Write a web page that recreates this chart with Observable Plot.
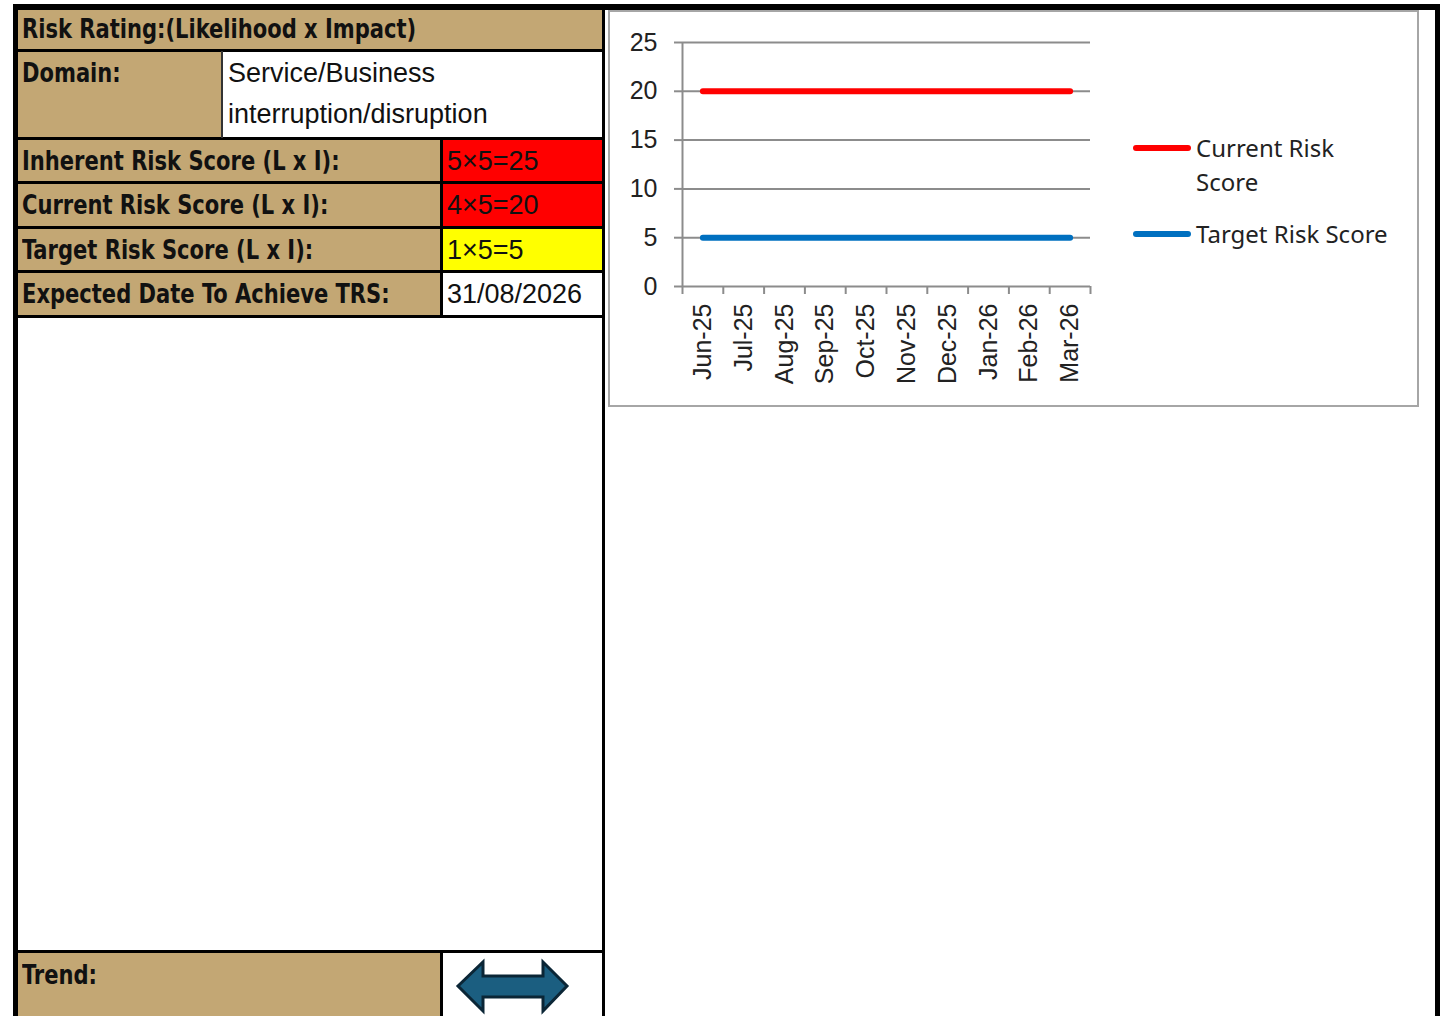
<!DOCTYPE html>
<html>
<head>
<meta charset="utf-8">
<script src="https://cdn.jsdelivr.net/npm/d3@7"></script>
<script src="https://cdn.jsdelivr.net/npm/@observablehq/plot@0.6"></script>
<style>
  html, body { margin: 0; padding: 0; background: #ffffff; }
  body { width: 1440px; height: 1016px; position: relative; overflow: hidden; }
  .abs { position: absolute; box-sizing: border-box; }
  .tan { background: #c3a774; }
  .blk { background: #000000; }
  .lbl { font-family: "Liberation Sans Narrow", "DejaVu Sans Condensed", "Liberation Sans", sans-serif; font-weight: bold; font-size: 26px; color: #111; white-space: nowrap; line-height: 1; transform: scaleX(0.9); transform-origin: 0 50%; }
  .val { font-family: "Liberation Sans", Arial, sans-serif; font-size: 27px; color: #111; white-space: nowrap; line-height: 1; }
  .leg { font-family: "Noto Sans", "Open Sans", sans-serif; font-size: 24px; color: #222; line-height: 34px; }
</style>
</head>
<body>
<div id="root"></div>
<script>
// ---------- data ----------
const months = ["Jun-25", "Jul-25", "Aug-25", "Sep-25", "Oct-25", "Nov-25", "Dec-25", "Jan-26", "Feb-26", "Mar-26"];
const currentRisk = [20, 20, 20, 20, 20, 20, 20, 20, 20, 20];
const targetRisk  = [5, 5, 5, 5, 5, 5, 5, 5, 5, 5];
const yTicks = [0, 5, 10, 15, 20, 25];
const seriesNames = ["Current Risk Score", "Target Risk Score"];
const seriesColors = ["#ff0000", "#0070c0"];

const headerText = "Risk Rating:(Likelihood x Impact)";
const domainLabel = "Domain:";
const domainValueLines = ["Service/Business", "interruption/disruption"];
const scoreLabels = ["Inherent Risk Score (L x I):", "Current Risk Score (L x I):", "Target Risk Score (L x I):", "Expected Date To Achieve TRS:"];
const scoreValues = ["5×5=25", "4×5=20", "1×5=5", "31/08/2026"];
const scoreFills = ["#ff0000", "#ff0000", "#ffff00", "#ffffff"];
const trendLabel = "Trend:";

// ---------- layout helpers ----------
const root = document.getElementById("root");
function box(x, y, w, h, cls, style) {
  const d = document.createElement("div");
  d.className = "abs " + (cls || "");
  Object.assign(d.style, {left: x + "px", top: y + "px", width: w + "px", height: h + "px"}, style || {});
  root.appendChild(d);
  return d;
}
function text(x, cy, str, cls, style) {
  const d = document.createElement("div");
  d.className = "abs " + cls;
  d.textContent = str;
  Object.assign(d.style, {left: x + "px", top: (cy - 14) + "px", height: "28px", lineHeight: "28px"}, style || {});
  root.appendChild(d);
  return d;
}

// cells
box(18, 10, 585, 41, "tan");
text(22, 29, headerText, "lbl");

box(18, 51, 205, 88, "tan");
text(22, 73, domainLabel, "lbl");
box(223, 51, 380, 88, "", {background: "#fff"});
domainValueLines.forEach((s, i) => text(228, 73 + i * 41, s, "val"));

const rowTops = [139, 183, 228, 272];
const rowH = [44, 45, 44, 45];
scoreLabels.forEach((s, i) => {
  box(18, rowTops[i], 424, rowH[i], "tan");
  text(22, rowTops[i] + 22, s, "lbl");
  box(442, rowTops[i], 161, rowH[i], "", {background: scoreFills[i]});
  text(447, rowTops[i] + 22, scoreValues[i], "val");
});

box(18, 952, 424, 64, "tan");
text(22, 975, trendLabel, "lbl");

// black grid lines
box(13, 4, 1427, 6, "blk");       // top
box(13, 4, 5, 1012, "blk");       // left
box(1435, 4, 5, 1012, "blk");     // right
box(602, 10, 3, 1006, "blk");     // middle divider
[49, 137, 181, 226, 270, 315, 950].forEach(y => box(18, y, 585, 3, "blk"));
box(221, 51, 2, 87, "blk", {background: "#333"});
box(440, 139, 3, 177, "blk");
box(440, 952, 3, 64, "blk");

// trend arrow (decoration)
const arrowNS = "http://www.w3.org/2000/svg";
const arr = document.createElementNS(arrowNS, "svg");
arr.setAttribute("width", 120); arr.setAttribute("height", 60);
Object.assign(arr.style, {position: "absolute", left: "452px", top: "956px"});
const p = document.createElementNS(arrowNS, "path");
p.setAttribute("d", "M6,30 L31,6 L31,20 L91,20 L91,6 L115,30 L91,55 L91,41 L31,41 L31,55 Z");
p.setAttribute("fill", "#1b5e80");
p.setAttribute("stroke", "#0b2636");
p.setAttribute("stroke-width", "3");
p.setAttribute("stroke-linejoin", "miter");
arr.appendChild(p);
root.appendChild(arr);

// chart frame
box(608, 10, 811, 397, "", {border: "2px solid #a6a6a6", background: "#fff"});

// ---------- chart ----------
const idx = months.map((_, i) => i);
const bounds = d3.range(-0.5, months.length, 1);
const data = months.flatMap((m, i) => [
  {i, v: currentRisk[i], s: seriesNames[0]},
  {i, v: targetRisk[i], s: seriesNames[1]}
]);
const gray = "#8c8c8c";

const chart = Plot.plot({
  width: 500,
  height: 390,
  marginLeft: 72,
  marginTop: 30,
  marginRight: 20,
  marginBottom: 116,
  x: {type: "linear", domain: [-0.5, months.length - 0.5]},
  y: {domain: [0, 25]},
  color: {domain: seriesNames, range: seriesColors},
  style: {fontFamily: "'Liberation Sans', Arial, sans-serif", background: "transparent", overflow: "visible"},
  marks: [
    Plot.gridY(yTicks, {stroke: gray, strokeOpacity: 1, strokeWidth: 2}),
    Plot.axisY(yTicks, {tickSize: 8, tickPadding: 17, fontSize: 25, stroke: gray, strokeWidth: 2, fill: "#222", label: null}),
    Plot.ruleX([-0.5], {stroke: gray, strokeWidth: 2}),
    Plot.axisX(bounds, {tickSize: 8, tickFormat: () => "", stroke: gray, strokeWidth: 2, label: null}),
    Plot.axisX(idx, {tickSize: 0, tickPadding: 17, tickRotate: -90, fontSize: 25, fill: "#222", tickFormat: i => months[i], label: null}),
    Plot.line(data, {x: "i", y: "v", z: "s", stroke: "s", strokeWidth: 6, strokeLinecap: "round", strokeLinejoin: "round"})
  ]
});
Object.assign(chart.style, {position: "absolute", left: "610px", top: "12px"});
root.appendChild(chart);

// legend
const legTops = [148, 234];
seriesNames.forEach((name, k) => {
  box(1133, legTops[k] - 3, 58, 6, "", {background: seriesColors[k], borderRadius: "3px"});
  const t = box(1196, legTops[k] - 17, k === 0 ? 165 : 230, k === 0 ? 68 : 34, "leg", k === 0 ? {} : {whiteSpace: "nowrap"});
  t.textContent = name;
});
</script>
</body>
</html>
